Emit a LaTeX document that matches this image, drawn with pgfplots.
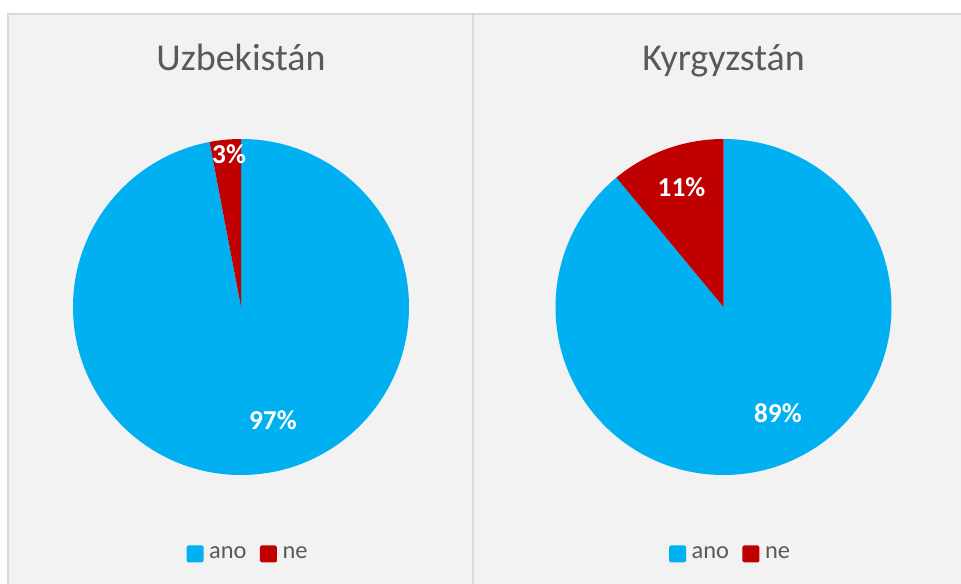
\documentclass[border=0pt]{standalone}
\usepackage{pgfplots}
\pgfplotsset{compat=1.18}
\usepackage{fontspec}
\setmainfont{Carlito}
\definecolor{ano}{HTML}{00B0F0}
\definecolor{ne}{HTML}{C00000}
\definecolor{panel}{HTML}{F2F2F2}
\definecolor{frame}{HTML}{D9D9D9}
\definecolor{txt}{HTML}{595959}

% data (percent)
\def\uzAno{97}\def\uzNe{3}
\def\kgAno{89}\def\kgNe{11}

\pgfplotsset{
  piestyle/.style={
    anchor=center, hide axis, x=126pt, y=126pt,
    xmin=-1, xmax=1, ymin=-1, ymax=1, clip=false,
    legend image code/.code={\fill[##1, rounded corners=1.2pt] (0pt,-6.4pt) rectangle (12.75pt,6.4pt); \path (0pt,0pt) -- (15pt,0pt);},
    legend style={at={(0.522,-0.235)}, anchor=center, draw=none, fill=none,
      legend columns=2, font=\fontsize{18.3}{20}\selectfont, text=txt,
      inner sep=0pt, outer sep=0pt,
      /tikz/every even column/.append style={column sep=8pt}},
    legend cell align=left,
  },
  lbl/.style={draw=none, mark=none, forget plot, nodes near coords,
    point meta=explicit symbolic,
    nodes near coords style={font=\bfseries\fontsize{20.5}{22}\selectfont, text=white, anchor=center}},
}

\begin{document}
\begin{tikzpicture}
\begin{scope}[x=0.75pt, y=-0.75pt]
\useasboundingbox (0,0) rectangle (961,584);
\fill[white] (0,0) rectangle (961,584);
\fill[panel] (8,14) rectangle (961,584);
\draw[frame, line width=1.2pt] (8,584) -- (8,14) -- (961,14);
\draw[frame, line width=1.2pt] (473,14) -- (473,584);
\node[anchor=base, text=txt, font=\fontsize{28.5}{32}\selectfont] at (241,71) {Uzbekistán};
\node[anchor=base, text=txt, font=\fontsize{28.5}{32}\selectfont] at (723.5,71) {Kyrgyzstán};
\end{scope}

\pgfmathsetmacro\uzA{90-3.6*\uzAno}
\pgfmathsetmacro\uzB{90+3.6*\uzNe}
\begin{axis}[piestyle, at={(180.75pt,-230.25pt)}]
\addplot[fill=ano, draw=none] coordinates {(0,0) (0,1)} arc[start angle=90, end angle=\uzA, radius=126pt] -- cycle;
\addlegendentry{ano}
\addplot[fill=ne, draw=none] coordinates {(0,0) (0,1)} arc[start angle=90, end angle=\uzB, radius=126pt] -- cycle;
\addlegendentry{ne}
\addplot[lbl] coordinates {(0.19,-0.676) [97\%] (-0.071,0.911) [3\%]};
\end{axis}

\pgfmathsetmacro\kgA{90-3.6*\kgAno}
\pgfmathsetmacro\kgB{90+3.6*\kgNe}
\begin{axis}[piestyle, at={(542.625pt,-230.25pt)}]
\addplot[fill=ano, draw=none] coordinates {(0,0) (0,1)} arc[start angle=90, end angle=\kgA, radius=126pt] -- cycle;
\addlegendentry{ano}
\addplot[fill=ne, draw=none] coordinates {(0,0) (0,1)} arc[start angle=90, end angle=\kgB, radius=126pt] -- cycle;
\addlegendentry{ne}
\addplot[lbl] coordinates {(0.324,-0.631) [89\%] (-0.25,0.714) [11\%]};
\end{axis}
\end{tikzpicture}
\end{document}
